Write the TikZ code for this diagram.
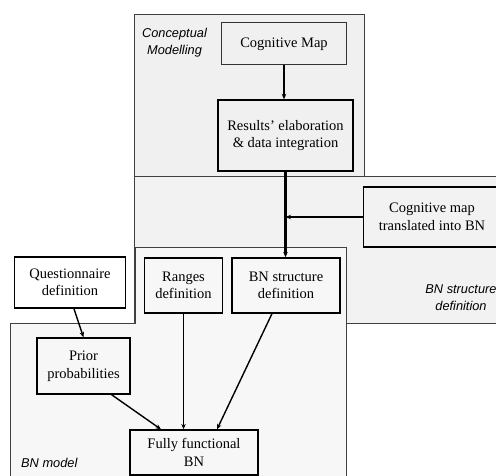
\documentclass[tikz,border=0pt]{standalone}
\usepackage{fontspec}
\setmainfont{Liberation Serif}
\setsansfont{Liberation Sans}
\usetikzlibrary{calc, positioning, arrows.meta}
\definecolor{cmfill}{HTML}{F0F0F0}
\definecolor{bsfill}{HTML}{F2F2F2}
\definecolor{bmfill}{HTML}{F7F7F7}

\begin{document}
\begin{tikzpicture}[x=1pt,y=1pt,
    box/.style={draw,line width=1.3pt,align=center,inner sep=0pt,
      font=\fontsize{14.5}{17.5}\selectfont},
    panel/.style={draw=black!75,line width=0.8pt},
    tag/.style={align=center,inner sep=0pt,
      font=\sffamily\itshape\fontsize{12.8}{17}\selectfont},
    link/.style={line width=1.4pt,-{Stealth[length=5.5pt,width=4.5pt]}}]
        \clip (0,0) rectangle (496,476);
        % Panels
        \draw[panel,fill=cmfill] (134,462) rectangle (364,300);
        \draw[panel,fill=bsfill] (134,300) rectangle (510,153);
        \draw[panel,fill=bmfill] (10,153) -- (135,153) -- (135,229)
          -- (346,229) -- (346,-5) -- (10,-5) -- cycle;
        % Panel names
        \node[tag] (cmtag) at (174.5,433) {Conceptual\\Modelling};
        \node[tag] (bstag) at (461,178) {BN structure\\definition};
        \node[tag,anchor=west] (bmtag) at (21,13) {BN model};
        % Boxes
        \node[box,line width=1pt,draw=black!80,minimum width=125pt,minimum height=42pt]
          (cogmap) at (284,432) {Cognitive Map};
        \node[box,minimum width=135pt,minimum height=71pt]
          (results) at (285.5,340.5) {Results' elaboration\\\& data integration};
        \node[box,minimum width=137pt,minimum height=60pt]
          (translated) at (432,259) {Cognitive map\\translated into BN};
        \node[box,line width=1.8pt,minimum width=111pt,minimum height=51pt]
          (questionnaire) at (70,193.5) {Questionnaire\\definition};
        \node[box,minimum width=78pt,minimum height=55pt]
          (ranges) at (183.5,190.5) {Ranges\\definition};
        \node[box,minimum width=108pt,minimum height=55pt]
          (bnstruct) at (286,190.5) {BN structure\\definition};
        \node[box,minimum width=93pt,minimum height=56pt]
          (prior) at (83.5,110) {Prior\\probabilities};
        \node[box,minimum width=128pt,minimum height=45pt]
          (fully) at (194,23.5) {Fully functional\\BN};
        % Arrows
        \draw[link] (cogmap.south) -- (cogmap.south |- results.north);
        \draw[link,line width=2.2pt] (results.south) -- (results.south |- bnstruct.north);
        \coordinate (join) at (results.south |- translated.west);
        \draw[link] (translated.west) -- (join);
        \draw[link] ([xshift=4pt]questionnaire.south) -- (prior.north);
        \draw[link] (ranges.south) -- (ranges.south |- fully.north);
        \draw[link] ([xshift=-14pt]bnstruct.south) -- ([xshift=23pt]fully.north);
        \draw[link] ([xshift=28pt]prior.south) -- ([xshift=-33pt]fully.north);
    \end{tikzpicture}
\end{document}
